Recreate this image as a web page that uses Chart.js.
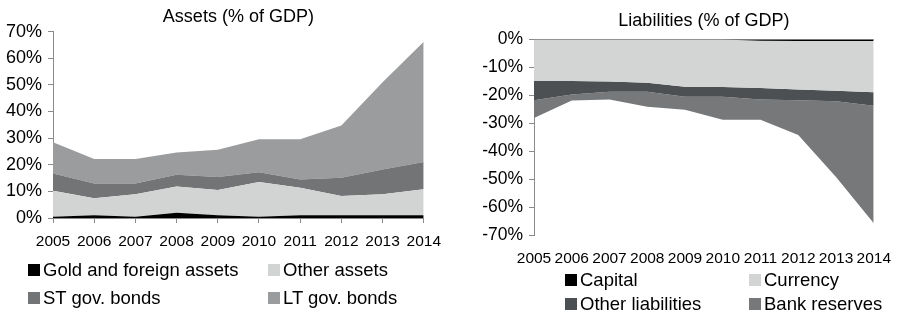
<!DOCTYPE html>
<html>
<head>
<meta charset="utf-8">
<script src="https://cdn.jsdelivr.net/npm/chart.js@4.4.1/dist/chart.umd.min.js"></script>
<style>
  html, body { margin: 0; padding: 0; background: #fff; }
  body { width: 905px; height: 317px; position: relative; overflow: hidden; font-family: "Liberation Sans", Arial, sans-serif; }
  .wrap { position: absolute; }
  .leg { position: absolute; font-size: 18.5px; color: #000; line-height: 20px; white-space: nowrap; }
  .leg .sw { position: absolute; left: 0; top: 4px; width: 12px; height: 12px; }
  .leg .tx { position: absolute; left: 15px; top: 0; }
</style>
</head>
<body>
<div class="wrap" style="left:0;top:0;width:450px;height:248px;"><canvas id="assets"></canvas></div>
<div class="wrap" style="left:455px;top:0;width:450px;height:265px;"><canvas id="liab"></canvas></div>
<div id="legA"></div>
<div id="legL"></div>
<script>
// ---- data (percent of GDP) ----
const years = ['2005','2006','2007','2008','2009','2010','2011','2012','2013','2014'];

// Assets
const goldForeign = [0.5, 1.0, 0.5, 2.0, 1.0, 0.5, 1.0, 1.0, 1.0, 1.0];
const otherAssets = [9.7, 6.4, 8.4, 9.8, 9.5, 13.0, 10.4, 7.3, 7.9, 9.8];
const stGovBonds  = [6.5, 5.6, 4.1, 4.4, 4.9, 3.7, 3.1, 6.8, 9.3, 10.2];
const ltGovBonds  = [11.7, 9.2, 9.2, 8.4, 10.2, 12.4, 15.1, 19.6, 32.8, 45.2];

// Liabilities
const capital          = [0, 0, 0, 0, 0, 0, -0.4, -0.5, -0.5, -0.5];
const currency         = [-14.8, -14.8, -15.0, -15.5, -16.9, -17.0, -16.9, -17.4, -17.8, -18.4];
const otherLiabilities = [-6.9, -4.9, -3.7, -3.2, -3.6, -3.5, -4.2, -3.8, -3.8, -4.8];
const bankReserves     = [-6.4, -2.1, -2.8, -5.4, -4.6, -8.2, -7.2, -12.5, -27.1, -42.1];

const assetTicks = [0, 10, 20, 30, 40, 50, 60, 70];
const liabTicks  = [0, -10, -20, -30, -40, -50, -60, -70];

const assetSeries = [
  { label: 'Gold and foreign assets', data: goldForeign, color: '#000000' },
  { label: 'Other assets',            data: otherAssets, color: '#d2d3d3' },
  { label: 'ST gov. bonds',           data: stGovBonds,  color: '#727476' },
  { label: 'LT gov. bonds',           data: ltGovBonds,  color: '#9a9c9e' }
];
const liabSeries = [
  { label: 'Capital',           data: capital,          color: '#000000' },
  { label: 'Currency',          data: currency,         color: '#d3d4d4' },
  { label: 'Other liabilities', data: otherLiabilities, color: '#4d5052' },
  { label: 'Bank reserves',     data: bankReserves,     color: '#76787a' }
];

const FONT = '"Liberation Sans", Arial, sans-serif';
const AXIS = '#8a8a8a';

function makeDatasets(series) {
  return series.map((s, i) => ({
    label: s.label,
    data: s.data,
    backgroundColor: s.color,
    borderColor: s.color,
    borderWidth: 0,
    pointRadius: 0,
    pointHoverRadius: 0,
    tension: 0,
    fill: i === 0 ? 'origin' : '-1'
  }));
}

function build(id, series, o) {
  return new Chart(document.getElementById(id), {
    type: 'line',
    data: { labels: years, datasets: makeDatasets(series) },
    options: {
      responsive: true,
      maintainAspectRatio: false,
      animation: false,
      events: [],
      layout: { padding: { left: 0, right: o.padRight, top: 0, bottom: 0 } },
      plugins: {
        legend: { display: false },
        tooltip: { enabled: false },
        title: {
          display: true, text: o.title, fullSize: false, color: '#000',
          font: { family: FONT, size: 18, weight: 'normal' },
          padding: o.titlePad
        }
      },
      scales: {
        x: {
          offset: false,
          border: { display: o.xBorder, color: AXIS },
          grid: { display: true, drawOnChartArea: false, drawTicks: o.xTicks, tickLength: 5, color: AXIS },
          ticks: { color: '#000', font: { family: FONT, size: 15.5 }, maxRotation: 0, autoSkip: false, padding: o.xPad },
          afterFit: (s) => { s.height = 30; }
        },
        y: {
          stacked: true,
          min: o.min, max: o.max,
          afterBuildTicks: (s) => { s.ticks = o.ticks.map(v => ({ value: v })); },
          border: { display: true, color: AXIS },
          grid: {
            drawOnChartArea: true, drawTicks: true, tickLength: 5,
            color: (c) => (c.tick && c.tick.value === 0 && o.zeroLine) ? AXIS : 'rgba(0,0,0,0)',
            tickColor: AXIS
          },
          ticks: { color: '#000', font: { family: FONT, size: o.yFont }, padding: 6, callback: (v) => v + '%' },
          afterFit: (s) => { s.width = o.yWidth; }
        }
      }
    }
  });
}

build('assets', assetSeries, {
  title: 'Assets (% of GDP)', titlePad: { top: 6, bottom: 4 },
  padRight: 25, min: 0, max: 70, ticks: assetTicks, yWidth: 53, yFont: 18,
  xBorder: true, xTicks: true, xPad: 9, zeroLine: false
});
build('liab', liabSeries, {
  title: 'Liabilities (% of GDP)', titlePad: { top: 10, bottom: 8 },
  padRight: 19, min: -70, max: 0, ticks: liabTicks, yWidth: 79, yFont: 17.5,
  xBorder: false, xTicks: false, xPad: 14, zeroLine: true
});

// HTML legends (two columns)
function legend(elId, series, pos) {
  const el = document.getElementById(elId);
  series.forEach((s, i) => {
    const p = pos[i];
    const d = document.createElement('div');
    d.className = 'leg';
    d.style.left = p[0] + 'px';
    d.style.top = p[1] + 'px';
    d.innerHTML = '<span class="sw" style="background:' + s.color + '"></span><span class="tx"></span>';
    d.querySelector('.tx').textContent = s.label;
    el.appendChild(d);
  });
}
legend('legA', assetSeries, [[28, 260], [268, 260], [28, 288], [268, 288]]);
legend('legL', liabSeries, [[565, 270], [749, 270], [565, 294], [749, 294]]);
</script>
</body>
</html>
